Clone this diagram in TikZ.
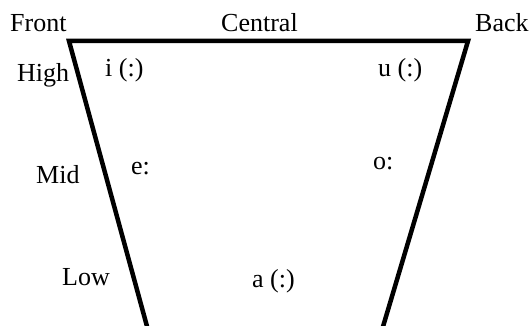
\documentclass[tikz,border=0pt]{standalone}
\usepackage{fontspec}
\setmainfont{Liberation Serif}
\begin{document}
\begin{tikzpicture}[x=1pt,y=-1pt,
  lbl/.style={anchor=base west,inner sep=0pt,font=\fontsize{26}{30}\selectfont},
  edge/.style={line width=4.5pt,line join=miter}]
\useasboundingbox (0,0) rectangle (530,326);
\coordinate (tl) at (69,41);
\coordinate (tr) at (468,41);
\coordinate (bl) at (148,330);
\coordinate (br) at (382,330);
\draw[edge] (bl) -- (tl) -- (tr) -- (br);
\node[lbl] (front) at (10,32) {Front};
\node[lbl] (central) at (221,32) {Central};
\node[lbl] (back) at (475,32) {Back};
\node[lbl] (high) at (17,82) {High};
\node[lbl] (mid) at (36,183) {Mid};
\node[lbl] (low) at (62,285) {Low};
\node[lbl] (i) at (105,77) {i (:)};
\node[lbl] (u) at (378,77) {u (:)};
\node[lbl] (e) at (131,175) {e:};
\node[lbl] (o) at (373,169) {o:};
\node[lbl] (a) at (252,287) {a (:)};
\end{tikzpicture}
\end{document}
